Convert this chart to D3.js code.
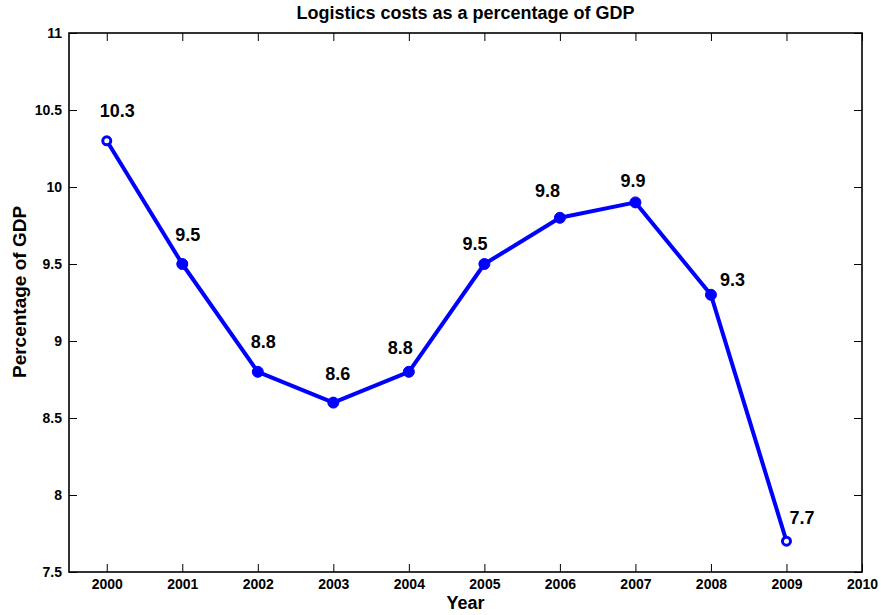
<html>
<head>
  <title>logistics costs</title>
</head>
<style>
  body {
    margin: 0;
    padding: 0;
    background: #fff;
  }
  text {
    font-family: "Liberation Sans", Arial, sans-serif;
    font-weight: bold;
  }
</style>
<body>
  <div id="chart"></div>
</body>
<script src="https://cdn.jsdelivr.net/npm/d3@7"></script>
<script>
  // data
  const years = [2000, 2001, 2002, 2003, 2004, 2005, 2006, 2007, 2008, 2009]
  const values = [10.3, 9.5, 8.8, 8.6, 8.8, 9.5, 9.8, 9.9, 9.3, 7.7]
  const xTicks = [2000, 2001, 2002, 2003, 2004, 2005, 2006, 2007, 2008, 2009, 2010]
  const yTicks = [7.5, 8, 8.5, 9, 9.5, 10, 10.5, 11]

  // where each value label sits relative to its point (px)
  const labelOffsets = [[-7, -30], [-7, -29], [-7, -30], [-8, -29], [-21, -24],
    [-22, -20], [-25, -27], [-15, -22], [9, -15], [3, -24]]

  const width = 881
  const height = 615
  const m = {top: 33, right: 19, bottom: 43, left: 69}
  const w = width - m.left - m.right
  const h = height - m.top - m.bottom

  const svg = d3.select("#chart").append("svg")
    .attr("width", width)
    .attr("height", height)

  const x = d3.scaleLinear().domain([1999.5, 2010]).range([0, w])
  const y = d3.scaleLinear().domain([7.5, 11]).range([h, 0])

  const g = svg.append("g").attr("transform", `translate(${m.left},${m.top})`)

  // axes, ticks pointing inward like matlab
  g.append("g").attr("transform", `translate(0,${h})`)
    .call(d3.axisBottom(x).tickValues(xTicks).tickFormat(d => d)
      .tickSizeInner(-8).tickSizeOuter(0).tickPadding(7))
  g.append("g")
    .call(d3.axisLeft(y).tickValues(yTicks).tickFormat(d => d)
      .tickSizeInner(-8).tickSizeOuter(0).tickPadding(7))
  g.append("g")
    .call(d3.axisTop(x).tickValues(xTicks).tickFormat("")
      .tickSizeInner(-8).tickSizeOuter(0))
  g.append("g").attr("transform", `translate(${w},0)`)
    .call(d3.axisRight(y).tickValues(yTicks).tickFormat("")
      .tickSizeInner(-8).tickSizeOuter(0))

  g.selectAll(".domain").remove()
  g.selectAll(".tick line").attr("stroke", "#000").attr("stroke-width", 1)
  g.selectAll(".tick text")
    .attr("fill", "#000")
    .style("font-size", "14px")

  g.append("rect")
    .attr("width", w).attr("height", h)
    .attr("fill", "none")
    .attr("stroke", "#000")
    .attr("stroke-width", 1.6)

  // line
  const line = d3.line()
    .x((d, i) => x(years[i]))
    .y(d => y(d))

  g.append("path")
    .datum(values)
    .attr("d", line)
    .attr("fill", "none")
    .attr("stroke", "#0000ff")
    .attr("stroke-width", 4)
    .attr("stroke-linejoin", "round")

  const last = values.length - 1
  g.selectAll("circle.pt").data(values).join("circle")
    .attr("class", "pt")
    .attr("cx", (d, i) => x(years[i]))
    .attr("cy", d => y(d))
    .attr("r", (d, i) => (i === 0 || i === last) ? 4 : 5.5)
    .attr("fill", (d, i) => (i === 0 || i === last) ? "#fff" : "#0000ff")
    .attr("stroke", "#0000ff")
    .attr("stroke-width", (d, i) => (i === 0 || i === last) ? 3 : 1)

  g.selectAll("text.lbl").data(values).join("text")
    .attr("class", "lbl")
    .attr("x", (d, i) => x(years[i]) + labelOffsets[i][0])
    .attr("y", (d, i) => y(d) + labelOffsets[i][1])
    .attr("dy", "0.36em")
    .style("font-size", "18px")
    .attr("fill", "#000")
    .text(d => d.toFixed(1))

  // titles
  svg.append("text")
    .attr("x", m.left + w / 2)
    .attr("y", 19)
    .attr("text-anchor", "middle")
    .style("font-size", "18px")
    .text("Logistics costs as a percentage of GDP")

  svg.append("text")
    .attr("x", m.left + w / 2)
    .attr("y", 609)
    .attr("text-anchor", "middle")
    .style("font-size", "18px")
    .text("Year")

  svg.append("text")
    .attr("transform", `translate(26,292) rotate(-90)`)
    .attr("text-anchor", "middle")
    .style("font-size", "19px")
    .text("Percentage of GDP")
</script>
</html>
